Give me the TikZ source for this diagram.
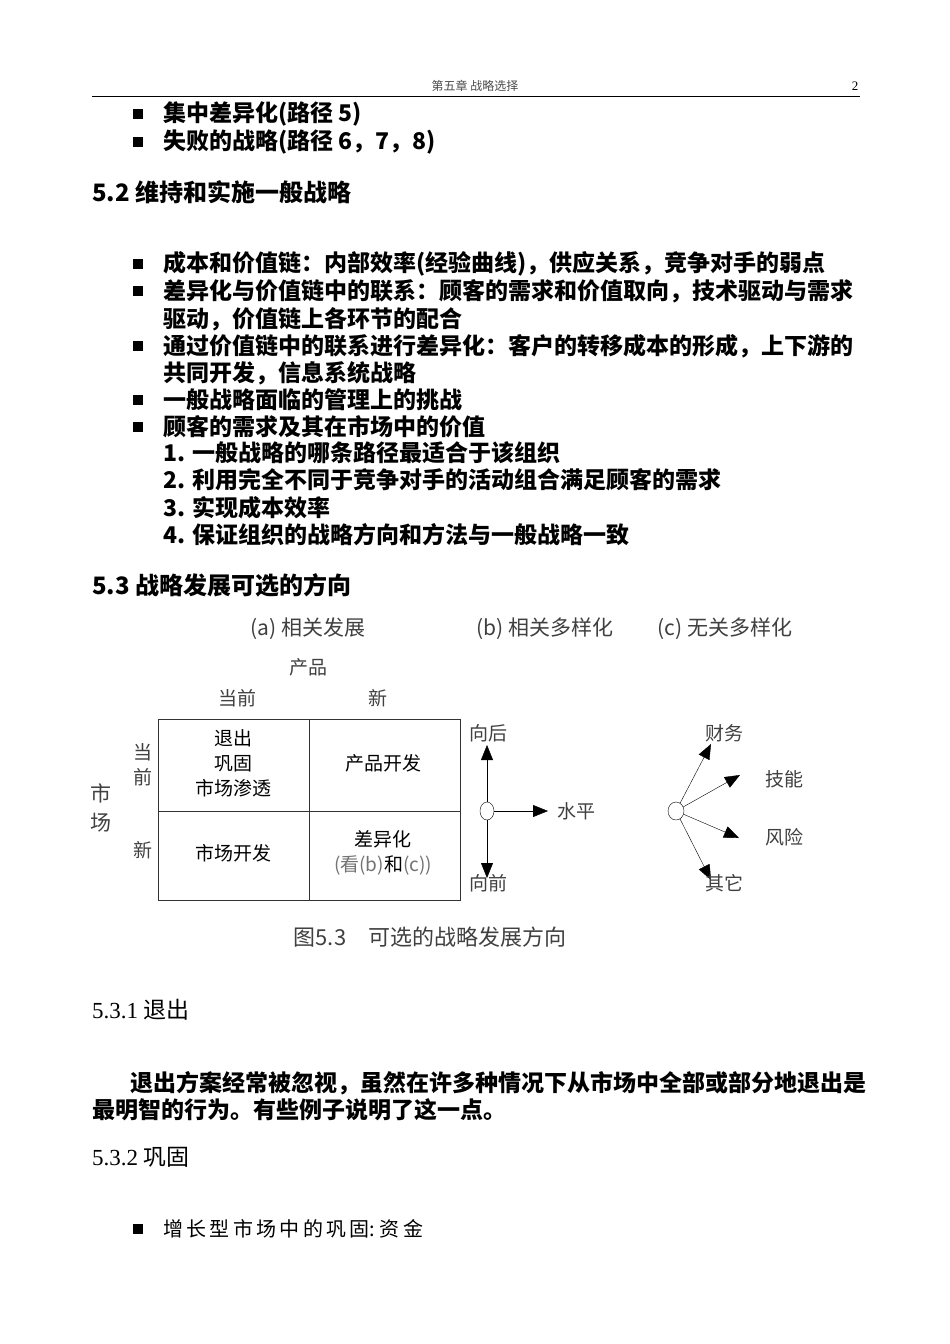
\documentclass[tikz,border=0pt]{standalone}
\usepackage{fontspec}
\setmainfont{Liberation Serif}
\newfontfamily\cjk{Noto Sans CJK SC}
\usetikzlibrary{arrows.meta,shapes.geometric}
\begin{document}
\begin{tikzpicture}[x=1pt,y=-1pt,
  body/.style={anchor=west,inner sep=0pt,font=\cjk\bfseries\fontsize{23}{25}\selectfont},
  head/.style={anchor=west,inner sep=0pt,font=\cjk\bfseries\fontsize{24}{26}\selectfont},
  sec/.style={anchor=west,inner sep=0pt,font=\fontsize{23}{25}\selectfont},
  fig/.style={inner sep=0pt,text=black!75,font=\cjk\fontsize{19}{25}\selectfont,align=center},
  tip/.style={-{Triangle[length=15pt,width=12pt]},thin},
  bul/.style={fill=black,minimum size=10pt,inner sep=0pt}]
\useasboundingbox (0,0) rectangle (950,1344);
\fill[white] (0,0) rectangle (950,1344);
% header
\node[inner sep=0pt,text=black!70,font=\cjk\fontsize{12}{14}\selectfont] (hd) at (475,86) {第五章\ 战略选择};
\node[inner sep=0pt,font=\fontsize{13}{14}\selectfont] (pg) at (855,86) {2};
\draw[thin] (92,96) -- (860,96);
% bullets
\foreach \y/\t in {114/{集中差异化(路径 5)},142/{失败的战略(路径 6，7，8)},264/{成本和价值链：内部效率(经验曲线)，供应关系，竞争对手的弱点},291/{差异化与价值链中的联系：顾客的需求和价值取向，技术驱动与需求},346/{通过价值链中的联系进行差异化：客户的转移成本的形成，上下游的},400/{一般战略面临的管理上的挑战},427/{顾客的需求及其在市场中的价值}}{
  \node[bul] at (138,\y) {};
  \node[body] at (163,\y) {\t};}
\node[body] (c1) at (163,319) {驱动，价值链上各环节的配合};
\node[body] (c2) at (163,373) {共同开发，信息系统战略};
\foreach \y/\n/\t in {453/1/{一般战略的哪条路径最适合于该组织},480/2/{利用完全不同于竞争对手的活动组合满足顾客的需求},508/3/{实现成本效率},535/4/{保证组织的战略方向和方法与一般战略一致}}{
  \node[body] at (163,\y) {\textbf{\n.}};
  \node[body] at (192,\y) {\t};}
\node[head] (h52) at (92,192) {5.2 维持和实施一般战略};
\node[head] (h53) at (92,585) {5.3 战略发展可选的方向};
% figure
\node[fig,font=\cjk\fontsize{21}{25}\selectfont] (ta) at (308,629) {(a) 相关发展};
\node[fig,font=\cjk\fontsize{21}{25}\selectfont] (tb) at (545,629) {(b) 相关多样化};
\node[fig,font=\cjk\fontsize{21}{25}\selectfont] (tc) at (725,629) {(c) 无关多样化};
\node[fig] (cp) at (308,667) {产品};
\node[fig] (c1h) at (237,698) {当前};
\node[fig] (c2h) at (378,698) {新};
\node[fig,align=center] (r1h) at (143,765) {当\\前};
\node[fig] (r2h) at (143,850) {新};
\node[fig,font=\cjk\fontsize{21}{29}\selectfont] (mk) at (101,808) {市\\场};
\draw[thick,black!80] (158,719) rectangle (460,900);
\draw[thick,black!80] (309,719) -- (309,900) (158,811) -- (460,811);
\node[fig,text=black,font=\cjk\fontsize{19}{25}\selectfont] (q1) at (233,763) {退出\\巩固\\市场渗透};
\node[fig,text=black] (q2) at (383,763) {产品开发};
\node[fig,text=black] (q3) at (233,853) {市场开发};
\node[fig,text=black] (q4) at (383,853) {差异化\\{\color{black!55}(看(b)}和{\color{black!55}(c))}};
% directions
\node[draw,ellipse,minimum width=14pt,minimum height=18pt,inner sep=0pt] (o1) at (487,811) {};
\coordinate (u1) at (487,745); \coordinate (d1) at (487,878); \coordinate (r1) at (548,811);
\draw[tip] (o1) -- (u1); \draw[tip] (o1) -- (d1); \draw[tip] (o1) -- (r1);
\node[fig] (lb) at (488,733) {向后};
\node[fig] (lf) at (488,883) {向前};
\node[fig] (lh) at (576,811) {水平};
\node[draw,ellipse,minimum width=16pt,minimum height=18pt,inner sep=0pt] (o2) at (676,811) {};
\coordinate (a1) at (711,744); \coordinate (a2) at (740,775); \coordinate (a3) at (739,838); \coordinate (a4) at (711,880);
\foreach \a in {a1,a2,a3,a4} \draw[tip] (o2) -- (\a);
\node[fig] (l1) at (724,733) {财务};
\node[fig] (l2) at (784,779) {技能};
\node[fig] (l3) at (784,837) {风险};
\node[fig] (l4) at (724,883) {其它};
\node[fig,font=\cjk\fontsize{22}{25}\selectfont] (cap) at (430,937) {图5.3\quad 可选的战略发展方向};
% lower text
\node[sec] (h531) at (92,1010) {5.3.1 \cjk 退出};
\node[body] (p1) at (130,1083) {退出方案经常被忽视，虽然在许多种情况下从市场中全部或部分地退出是};
\node[body] (p2) at (92,1110) {最明智的行为。有些例子说明了这一点。};
\node[sec] (h532) at (92,1157) {5.3.2 \cjk 巩固};
\node[bul] at (138,1229) {};
\node[body,font=\cjk\fontsize{20}{22}\selectfont] (b9) at (163,1229) {增\,长\,型\,市\,场\,中\,的\,巩\,固:\ 资\,金};
\end{tikzpicture}
\end{document}
